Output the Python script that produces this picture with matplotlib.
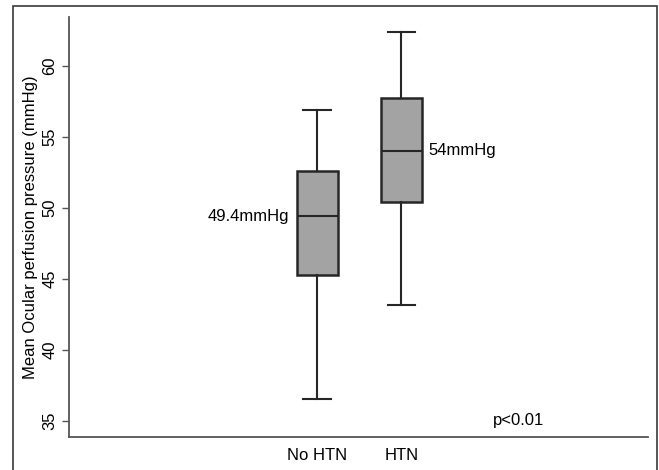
import matplotlib as mpl
mpl.use('Agg')
import matplotlib.pyplot as plt
from matplotlib.patches import Rectangle

# box plot summary per group
groups = ['No HTN', 'HTN']
whislo = [36.5, 43.15]
q1 = [45.25, 50.4]
med = [49.4, 54.0]
q3 = [52.58, 57.7]
whishi = [56.9, 62.35]
med_labels = ['49.4mmHg', '54mmHg']
pval = 'p<0.01'

plt.rcParams['font.family'] = ['Liberation Sans', 'DejaVu Sans']

fig = plt.figure(figsize=(6.59, 4.70), dpi=100)
ax = fig.add_axes([0.1042, 0.0696, 0.8796, 0.8936])

stats = []
for i in range(len(groups)):
	stats.append({'whislo': whislo[i], 'q1': q1[i], 'med': med[i],
		'q3': q3[i], 'whishi': whishi[i], 'fliers': [], 'label': groups[i]})

pos = [1, 2]
ax.bxp(stats, positions=pos, widths=0.49, capwidths=0.33, patch_artist=True,
	showfliers=False,
	boxprops=dict(facecolor='#a3a3a3', edgecolor='#262626', linewidth=1.8),
	medianprops=dict(color='#262626', linewidth=1.5),
	whiskerprops=dict(color='#262626', linewidth=1.5),
	capprops=dict(color='#262626', linewidth=1.5))

ax.set_xlim(-1.95, 4.93)
ax.set_ylim(33.82, 63.42)
ax.set_yticks([35, 40, 45, 50, 55, 60])
ax.set_yticklabels(['35', '40', '45', '50', '55', '60'], rotation=90, va='center')
ax.tick_params(axis='y', length=5, width=1, color='#555555', labelsize=12, pad=3)
ax.tick_params(axis='x', length=0, labelsize=12, pad=8)
ax.set_ylabel('Mean Ocular perfusion pressure (mmHg)', fontsize=12, labelpad=3)

for sp in ['top', 'right']:
	ax.spines[sp].set_visible(False)
for sp in ['left', 'bottom']:
	ax.spines[sp].set_color('#555555')
	ax.spines[sp].set_linewidth(1.3)

# median labels
ax.text(pos[0] - 0.335, med[0], med_labels[0], ha='right', va='center', fontsize=12)
ax.text(pos[1] + 0.32, med[1], med_labels[1], ha='left', va='center', fontsize=12)
ax.text(3.085, 35.0, pval, ha='left', va='center', fontsize=12)

# outer frame of the figure
fig.patches.append(Rectangle((0.0195, -0.05), 0.978, 1.037, transform=fig.transFigure,
	fill=False, edgecolor='#3a3a3a', linewidth=1.2))

fig.savefig('out.png', dpi=100)
